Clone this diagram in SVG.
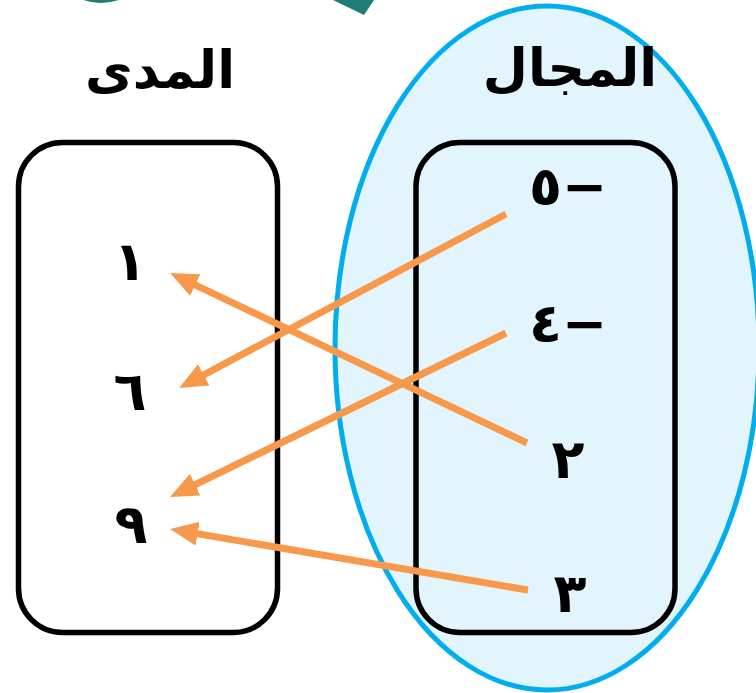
<svg xmlns="http://www.w3.org/2000/svg" width="756" height="693" viewBox="0 0 756 693">
  <style>
    .box { fill: none; stroke: #000; stroke-width: 5.5; }
    .title { font-family: "DejaVu Sans", "Noto Sans", sans-serif; font-weight: bold; font-size: 52px; fill: #000; text-anchor: middle; }
    .num { font-family: "DejaVu Sans", "Noto Sans", sans-serif; font-weight: bold; font-size: 54px; fill: #000; text-anchor: middle; }
    .map { stroke: #f7984a; stroke-width: 7; fill: none; marker-end: url(#head); }
  </style>
  <defs>
    <marker id="head" viewBox="0 0 28 24" refX="8" refY="12" markerWidth="28" markerHeight="24" markerUnits="userSpaceOnUse" orient="auto">
      <path d="M0,0 L28,12 L0,24 z" fill="#f7984a"/>
    </marker>
  </defs>

  <!-- decorative teal shapes at the top edge -->
  <ellipse cx="101" cy="-40" rx="48" ry="43" fill="#1d7d77"/>
  <polygon points="333,0 374,0 364,15" fill="#1d7d77"/>

  <!-- domain set -->
  <g id="domain-set">
    <ellipse cx="547" cy="348" rx="212" ry="342" fill="#e2f4fc" stroke="#00aeef" stroke-width="5"/>
  </g>

  <g id="domain-title">
    <text class="title" x="570" y="86">المجال</text>
  </g>
  <g id="range-title">
    <text class="title" x="160" y="88">المدى</text>
  </g>

  <g id="range-box">
    <rect class="box" x="18.5" y="142.5" width="259" height="490" rx="44"/>
    <text class="num" x="130" y="280">١</text>
    <text class="num" x="130" y="410">٦</text>
    <text class="num" x="131" y="543">٩</text>
  </g>

  <g id="domain-box">
    <rect class="box" x="416" y="142.5" width="259" height="490" rx="44"/>
    <text class="num" x="568" y="205">٥−</text>
    <text class="num" x="568" y="342">٤−</text>
    <text class="num" x="568" y="478">٢</text>
    <text class="num" x="570" y="612">٣</text>
  </g>

  <g id="connectors">
    <line class="map" x1="527" y1="443" x2="188.1" y2="281.6"/>
    <line class="map" x1="506" y1="214" x2="196.7" y2="378.6"/>
    <line class="map" x1="506" y1="333" x2="188" y2="488.2"/>
    <line class="map" x1="528" y1="590" x2="189.7" y2="532.4"/>
  </g>
</svg>
